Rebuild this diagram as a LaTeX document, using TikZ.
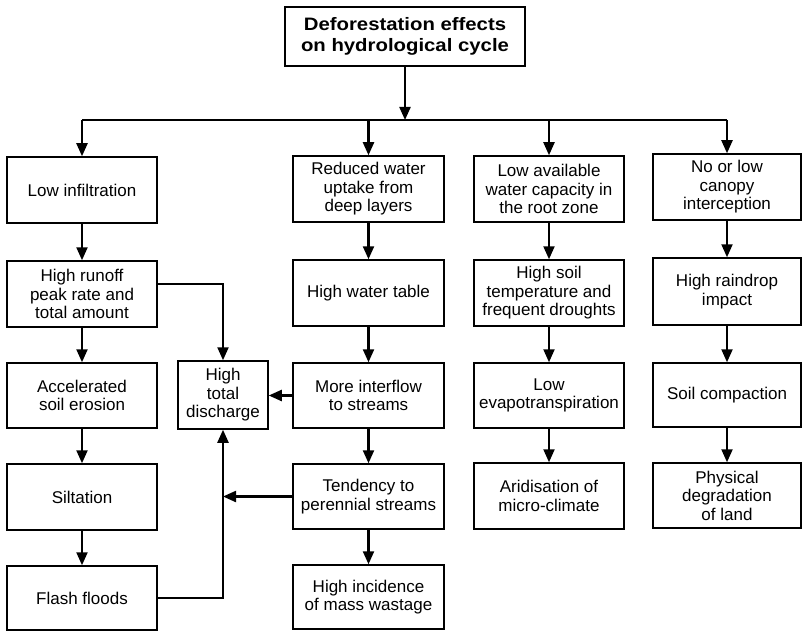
\documentclass[tikz,border=0pt]{standalone}
\usepackage{fontspec}
\setmainfont{Liberation Sans}
\newfontfamily\titlefont{Liberation Sans Bold}[FakeStretch=1.13]
\usetikzlibrary{arrows.meta}
\begin{document}
\begin{tikzpicture}[x=1pt,y=-1pt,
  box/.style={draw, line width=1.5pt, align=center, inner sep=0pt,
    font=\fontsize{17}{18.5}\selectfont},
  titlebox/.style={draw, line width=1.7pt, align=center, inner sep=0pt,
    font=\titlefont\fontsize{18}{21}\selectfont},
  arr/.style={line width=2.2pt, -{Triangle[length=13pt,width=11pt]}},
  ln/.style={line width=2.2pt}]
\useasboundingbox (0,0) rectangle (802,631);
% title
\node[titlebox, minimum width=240pt, minimum height=59pt] (title) at (405,36.5)
  {Deforestation effects\\on hydrological cycle};
% column 1
\node[box, minimum width=150pt, minimum height=66pt] (a1) at (82,190) {Low infiltration};
\node[box, minimum width=150pt, minimum height=66pt] (a2) at (82,294) {High runoff\\peak rate and\\total amount};
\node[box, minimum width=150pt, minimum height=65pt] (a3) at (82,395.5) {Accelerated\\soil erosion};
\node[box, minimum width=150pt, minimum height=66pt] (a4) at (82,497) {Siltation};
\node[box, minimum width=150pt, minimum height=64pt] (a5) at (82,598) {Flash floods};
% discharge
\node[box, minimum width=90pt, minimum height=68pt] (dis) at (223,395) {High\\total\\discharge};
% column 2
\node[box, minimum width=151pt, minimum height=66pt] (b1) at (368.5,189) {Reduced water\\uptake from\\deep layers};
\node[box, minimum width=151pt, minimum height=66pt] (b2) at (368.5,293) {High water table};
\node[box, minimum width=151pt, minimum height=65pt] (b3) at (368.5,395.5) {More interflow\\to streams};
\node[box, minimum width=151pt, minimum height=65pt] (b4) at (368.5,496.5) {Tendency to\\perennial streams};
\node[box, minimum width=151pt, minimum height=64pt] (b5) at (368.5,597) {High incidence\\of mass wastage};
% column 3
\node[box, minimum width=150pt, minimum height=66pt] (c1) at (549,189) {Low available\\water capacity in\\the root zone};
\node[box, minimum width=150pt, minimum height=66pt] (c2) at (549,293) {High soil\\temperature and\\frequent droughts};
\node[box, minimum width=150pt, minimum height=65pt] (c3) at (549,395.5) {Low\\evapotranspiration};
\node[box, minimum width=150pt, minimum height=66pt] (c4) at (549,496) {Aridisation of\\micro-climate};
% column 4
\node[box, minimum width=148pt, minimum height=66pt] (d1) at (727,187) {No or low\\canopy\\interception};
\node[box, minimum width=148pt, minimum height=67pt] (d2) at (727,291.5) {High raindrop\\impact};
\node[box, minimum width=148pt, minimum height=64pt] (d3) at (727,395) {Soil compaction};
\node[box, minimum width=148pt, minimum height=65pt] (d4) at (727,495.5) {Physical\\degradation\\of land};
% bus
\coordinate (bus) at (405,120);
\draw[arr] (title.south) -- (bus);
\draw[ln] (a1.north |- bus) -- (d1.north |- bus);
\foreach \n in {a1,b1,c1,d1} \draw[arr] (\n.north |- bus) -- (\n.north);
% column arrows
\foreach \u/\v in {a1/a2,a2/a3,a3/a4,a4/a5,b1/b2,b2/b3,b3/b4,b4/b5,c1/c2,c2/c3,c3/c4,d1/d2,d2/d3,d3/d4}
  \draw[arr] (\u.south) -- (\v.north);
% to discharge
\draw[arr] ([yshift=10pt]a2.east) -| (dis.north);
\draw[arr] (a5.east) -| (dis.south);
\draw[arr] (b3.west) -- (b3.west -| dis.east);
\coordinate (j) at (b4.west -| dis.south);
\draw[arr] (b4.west) -- (j);
\end{tikzpicture}
\end{document}
